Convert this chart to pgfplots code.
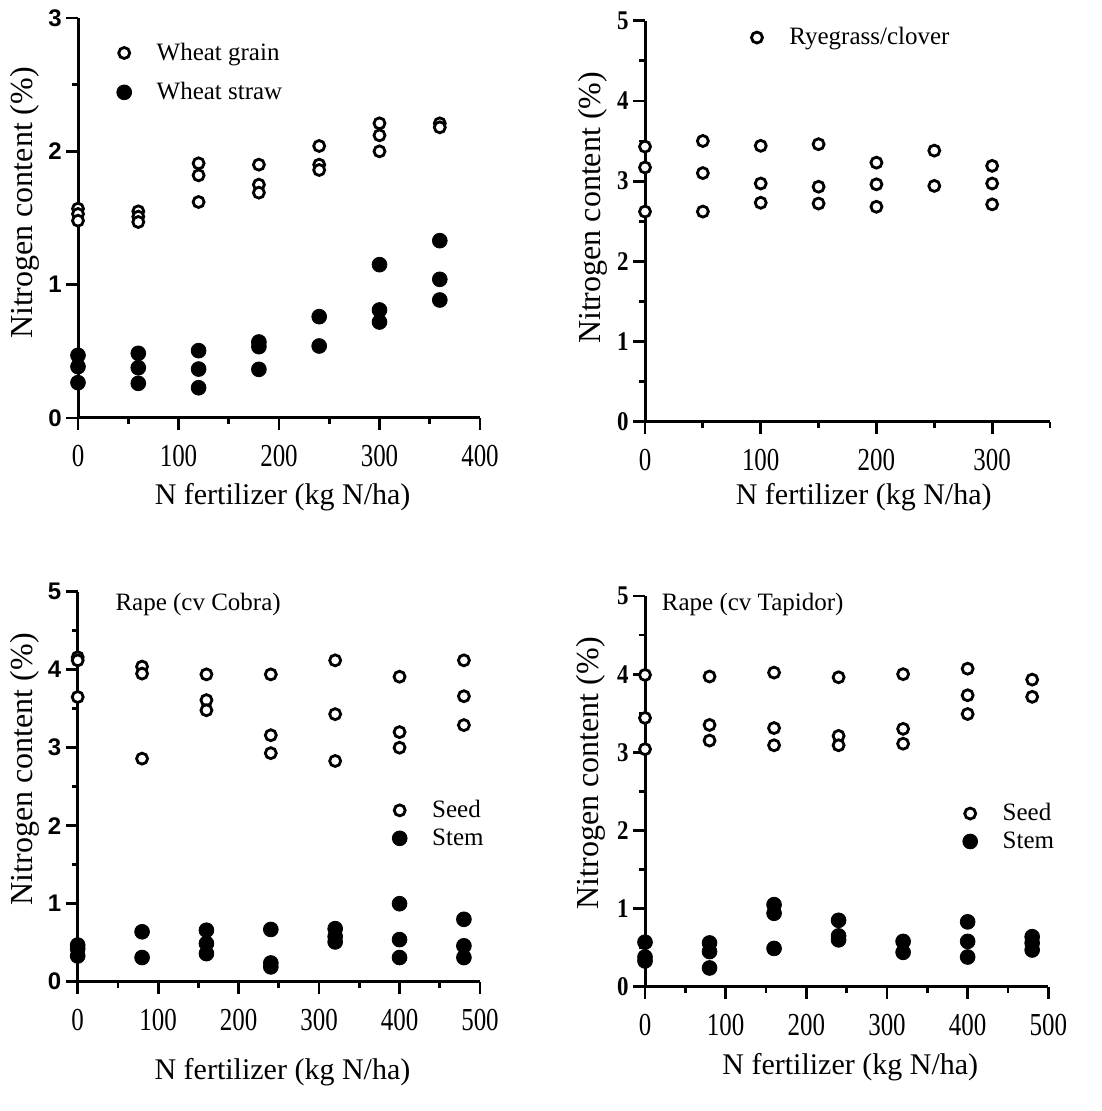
\documentclass[border=0pt]{standalone}
\usepackage{fontspec}
\setmainfont{Liberation Serif}
\setsansfont{Liberation Sans}
\usepackage{graphicx}
\usepackage{pgfplots}
\usepackage{pgfplotstable}
\pgfplotsset{compat=1.18}

% Panel 1: wheat
\pgfplotstableread{
x y
0 1.57
0 1.53
0 1.48
60 1.55
60 1.51
60 1.47
120 1.91
120 1.82
120 1.62
180 1.90
180 1.75
180 1.69
240 2.04
240 1.90
240 1.86
300 2.21
300 2.12
300 2.00
360 2.21
360 2.18
}\wheatgrain
\pgfplotstableread{
x y
0 0.47
0 0.385
0 0.265
60 0.485
60 0.377
60 0.26
120 0.505
120 0.367
120 0.227
180 0.57
180 0.535
180 0.365
240 0.76
240 0.54
300 1.15
300 0.81
300 0.72
360 1.33
360 1.04
360 0.885
}\wheatstraw
% Panel 2: ryegrass/clover
\pgfplotstableread{
x y
0 3.43
0 3.17
0 2.62
50 3.50
50 3.10
50 2.62
100 3.44
100 2.97
100 2.73
150 3.46
150 2.93
150 2.72
200 3.23
200 2.96
200 2.68
250 3.38
250 2.94
300 3.19
300 2.97
300 2.71
}\ryegrass
% Panel 3: rape cv Cobra
\pgfplotstableread{
x y
0 4.16
0 4.12
0 3.65
80 4.04
80 3.95
80 2.86
160 3.94
160 3.61
160 3.48
240 3.94
240 3.16
240 2.93
320 4.12
320 3.43
320 2.83
400 3.91
400 3.20
400 3.00
480 4.12
480 3.66
480 3.29
}\cobraseed
\pgfplotstableread{
x y
0 0.47
0 0.42
0 0.33
80 0.64
80 0.31
160 0.66
160 0.49
160 0.36
240 0.67
240 0.24
240 0.19
320 0.68
320 0.58
320 0.51
400 1.00
400 0.54
400 0.31
480 0.80
480 0.46
480 0.31
}\cobrastem
% Panel 4: rape cv Tapidor
\pgfplotstableread{
x y
0 3.99
0 3.44
0 3.04
80 3.97
80 3.35
80 3.15
160 4.02
160 3.31
160 3.09
240 3.96
240 3.21
240 3.09
320 4.00
320 3.30
320 3.11
400 4.07
400 3.73
400 3.49
480 3.93
480 3.71
}\tapidorseed
\pgfplotstableread{
x y
0 0.57
0 0.38
0 0.33
80 0.56
80 0.45
80 0.24
160 1.05
160 0.94
160 0.49
240 0.85
240 0.65
240 0.60
320 0.58
320 0.44
400 0.83
400 0.58
400 0.38
480 0.64
480 0.56
480 0.47
}\tapidorstem

\pgfplotsset{
  base/.style={
    scale only axis, clip=false,
    axis x line*=bottom, axis y line*=left,
    axis line style={line width=1.5pt, -},
    tick align=outside,
    every tick/.style={black, line width=1.4pt},
    major tick length=6pt, minor tick length=3pt,
    /pgf/number format/assume math mode=true,
    xticklabel style={font=\fontsize{16}{18}\selectfont, inner sep=0pt, anchor=north},
    xticklabel shift=7.5pt,
    xticklabel={\scalebox{0.78}[1]{\pgfmathprintnumber{\tick}}},
    yticklabel style={inner sep=0pt, anchor=east},
    yticklabel shift=2pt,
    xlabel={N fertilizer (kg N/ha)},
    ylabel={Nitrogen content (\%)},
    xlabel style={font=\fontsize{15}{18}\selectfont, anchor=center},
    ylabel style={font=\fontsize{16}{19}\selectfont, anchor=center},
    legend style={draw=none, fill=none, inner sep=0pt, outer sep=0pt,
      font=\fontsize{12.5}{14}\selectfont},
    legend cell align=left,
    legend image code/.code={\path[draw=none,fill=none] (0cm,0cm) rectangle (0.8cm,0cm); \draw[##1] plot coordinates {(0.3cm,0cm)};},
  },
  sansy/.style={yticklabel style={font=\fontsize{12}{14}\selectfont\sffamily\bfseries}},
  serify/.style={yticklabel style={font=\fontsize{13.5}{15}\selectfont\bfseries},
    yticklabel={\scalebox{0.85}[1]{\pgfmathprintnumber{\tick}}}},
  openm/.style={only marks, mark=*, mark size=2.75pt, mark options={fill=white, draw=black, line width=1.4pt}},
  fillm/.style={only marks, mark=*, mark size=3.7pt, mark options={fill=black, draw=black, line width=0.4pt}},
}

\begin{document}
\begin{tikzpicture}
\path[use as bounding box] (0pt,0pt) rectangle (550.5pt,-555.5pt);

% ---------- Panel 1 ----------
\begin{axis}[base, sansy,
  at={(39pt,-209pt)}, anchor=south west,
  width=201pt, height=200pt,
  xmin=0, xmax=400, ymin=0, ymax=3,
  xtick={0,100,200,300,400}, minor xtick={50,150,250,350},
  ytick={0,1,2,3}, minor ytick={0.5,1.5,2.5},
  xlabel style={at={(axis description cs:0.509,-0.1975)}},
  ylabel style={at={(axis description cs:-0.132,0.5375)}},
  legend style={at={(axis cs:29,2.59)}, anchor=west, row sep=5.5pt},
]
\addplot[openm] table {\wheatgrain};
\addlegendentry{Wheat grain}
\addplot[fillm] table {\wheatstraw};
\addlegendentry{Wheat straw}
\end{axis}

% ---------- Panel 2 ----------
\begin{axis}[base, serify,
  at={(322.5pt,-210.85pt)}, anchor=south west,
  width=202.5pt, height=200.5pt,
  xmin=0, xmax=350, ymin=0, ymax=5,
  xtick={0,100,200,300}, minor xtick={50,150,250,350},
  ytick={0,1,2,3,4,5}, minor ytick={0.5,1.5,2.5,3.5,4.5},
  xlabel style={at={(axis description cs:0.54,-0.187)}},
  ylabel style={at={(axis description cs:-0.128,0.533)}},
  legend style={at={(axis cs:82,4.79)}, anchor=west},
]
\addplot[openm] table {\ryegrass};
\addlegendentry{Ryegrass/clover}
\end{axis}

% ---------- Panel 3 ----------
\begin{axis}[base, sansy,
  at={(38.85pt,-490.85pt)}, anchor=south west,
  width=201.15pt, height=195pt,
  xmin=0, xmax=500, ymin=0, ymax=5,
  xtick={0,100,200,300,400,500}, minor xtick={50,150,250,350,450},
  ytick={0,1,2,3,4,5}, minor ytick={0.5,1.5,2.5,3.5,4.5},
  xlabel style={at={(axis description cs:0.509,-0.233)}},
  ylabel style={at={(axis description cs:-0.132,0.545)}},
  legend style={at={(axis cs:379,2.02)}, anchor=west, row sep=1pt, nodes={inner ysep=1.5pt}},
]
\addplot[openm] table {\cobraseed};
\addlegendentry{Seed}
\addplot[fillm] table {\cobrastem};
\addlegendentry{Stem}
\node[anchor=west, font=\fontsize{12.5}{14}\selectfont, inner sep=0pt] at (axis description cs:0.093,0.968) {Rape (cv Cobra)};
\end{axis}

% ---------- Panel 4 ----------
\begin{axis}[base, serify,
  at={(322.5pt,-493.35pt)}, anchor=south west,
  width=201.65pt, height=195.35pt,
  xmin=0, xmax=500, ymin=0, ymax=5,
  xtick={0,100,200,300,400,500}, minor xtick={50,150,250,350,450},
  ytick={0,1,2,3,4,5}, minor ytick={0.5,1.5,2.5,3.5,4.5},
  xlabel style={at={(axis description cs:0.509,-0.205)}},
  ylabel style={at={(axis description cs:-0.134,0.5465)}},
  legend style={at={(axis cs:382,2.04)}, anchor=west, row sep=1pt, nodes={inner ysep=1.5pt}},
]
\addplot[openm] table {\tapidorseed};
\addlegendentry{Seed}
\addplot[fillm] table {\tapidorstem};
\addlegendentry{Stem}
\node[anchor=west, font=\fontsize{12.5}{14}\selectfont, inner sep=0pt] at (axis description cs:0.041,0.979) {Rape (cv Tapidor)};
\end{axis}
\end{tikzpicture}
\end{document}
